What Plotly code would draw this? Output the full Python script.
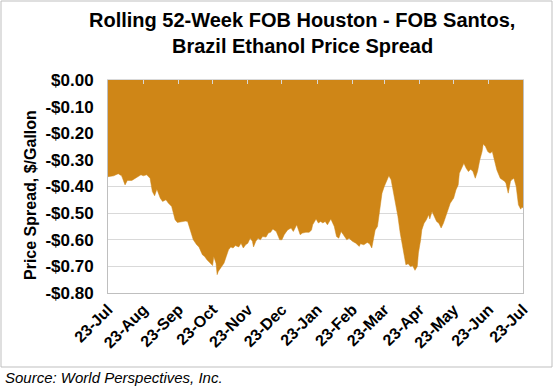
import pandas as pd
import plotly.graph_objects as go

# Days since 23-Jul-2017 and FOB Houston - FOB Santos spread ($/gallon)
start_date = "2017-07-23"
day_offset = [0, 5, 9, 12, 15, 17, 21, 26, 29, 31, 34, 37, 39, 41, 43, 46, 48, 51, 53, 56,
              59, 61, 65, 68, 70, 73, 75, 78, 80, 83, 85, 87, 90, 92, 93, 95, 96, 97, 100, 102,
              104, 106, 108, 110, 112, 115, 117, 119, 121, 123, 125, 127, 128, 130, 132, 134, 136, 139, 141, 143,
              145, 148, 151, 153, 155, 158, 161, 163, 166, 169, 171, 174, 177, 179, 180, 183, 185, 187, 189, 191,
              193, 196, 199, 201, 203, 205, 207, 210, 212, 215, 218, 221, 222, 225, 228, 230, 232, 234, 235, 237,
              238, 240, 241, 243, 245, 247, 249, 251, 253, 255, 257, 259, 261, 262, 264, 266, 268, 270, 272, 273,
              275, 276, 278, 280, 282, 283, 285, 287, 289, 291, 293, 295, 297, 299, 301, 303, 304, 306, 308, 309,
              311, 313, 315, 317, 319, 321, 323, 325, 327, 329, 330, 332, 334, 336, 338, 340, 342, 345, 347, 349,
              350, 352, 354, 355, 357, 359, 361, 363, 364, 365]
spread = [-0.363, -0.360, -0.352, -0.360, -0.394, -0.377, -0.377, -0.363, -0.356, -0.360, -0.356, -0.369, -0.419, -0.435, -0.410, -0.444, -0.456, -0.450, -0.462, -0.475,
          -0.525, -0.535, -0.531, -0.530, -0.531, -0.570, -0.600, -0.619, -0.627, -0.656, -0.663, -0.675, -0.688, -0.697, -0.663, -0.688, -0.731, -0.719, -0.700, -0.688,
          -0.663, -0.638, -0.627, -0.631, -0.622, -0.627, -0.613, -0.631, -0.619, -0.613, -0.594, -0.606, -0.627, -0.606, -0.594, -0.600, -0.588, -0.590, -0.575, -0.572,
          -0.560, -0.569, -0.600, -0.600, -0.581, -0.563, -0.556, -0.569, -0.544, -0.581, -0.575, -0.572, -0.572, -0.563, -0.544, -0.522, -0.537, -0.531, -0.537, -0.531,
          -0.544, -0.522, -0.550, -0.588, -0.594, -0.569, -0.581, -0.600, -0.594, -0.606, -0.613, -0.625, -0.615, -0.619, -0.610, -0.615, -0.631, -0.594, -0.563, -0.550,
          -0.513, -0.463, -0.425, -0.400, -0.381, -0.360, -0.375, -0.419, -0.463, -0.513, -0.575, -0.625, -0.675, -0.694, -0.690, -0.700, -0.698, -0.715, -0.700, -0.650,
          -0.600, -0.563, -0.538, -0.525, -0.506, -0.522, -0.494, -0.513, -0.531, -0.538, -0.556, -0.538, -0.513, -0.485, -0.463, -0.450, -0.444, -0.413, -0.394, -0.350,
          -0.331, -0.313, -0.331, -0.344, -0.335, -0.344, -0.369, -0.344, -0.300, -0.269, -0.240, -0.250, -0.269, -0.275, -0.269, -0.306, -0.338, -0.369, -0.375, -0.381,
          -0.388, -0.425, -0.381, -0.375, -0.369, -0.400, -0.469, -0.485, -0.478, -0.480]

tick_dates = ["2017-07-23", "2017-08-23", "2017-09-23", "2017-10-23", "2017-11-23", "2017-12-23",
              "2018-01-23", "2018-02-23", "2018-03-23", "2018-04-23", "2018-05-23", "2018-06-23", "2018-07-23"]
tick_labels = ["23-Jul", "23-Aug", "23-Sep", "23-Oct", "23-Nov", "23-Dec", "23-Jan",
               "23-Feb", "23-Mar", "23-Apr", "23-May", "23-Jun", "23-Jul"]
y_ticks = [0.0, -0.1, -0.2, -0.3, -0.4, -0.5, -0.6, -0.7, -0.8]
y_labels = ["$0.00", "-$0.10", "-$0.20", "-$0.30", "-$0.40", "-$0.50", "-$0.60", "-$0.70", "-$0.80"]

dates = pd.Timestamp(start_date) + pd.to_timedelta(day_offset, unit="D")

FONT = "Liberation Sans, Arial, sans-serif"
FILL = "#CF8617"
W, H = 558, 387
L, R, T, B = 108, 35, 80, 94
PW, PH = W - L - R, H - T - B


def px_x(px):
    return (px - L) / PW


def px_y(py):
    return (H - B - py) / PH


fig = go.Figure()
fig.add_trace(go.Scatter(x=dates, y=spread, mode="lines", fill="tozeroy",
                         fillcolor=FILL, line=dict(color=FILL, width=0.5),
                         showlegend=False, hoverinfo="x+y"))
# invisible helper trace so the top (zero-line) tick axis is drawn
fig.add_trace(go.Scatter(x=dates, y=spread, mode="lines", xaxis="x2",
                         line=dict(width=0, color="rgba(0,0,0,0)"),
                         showlegend=False, hoverinfo="skip"))

fig.update_layout(
    width=W, height=H,
    margin=dict(l=L, r=R, t=T, b=B, autoexpand=False),
    paper_bgcolor="white", plot_bgcolor="white",
    font=dict(family=FONT, color="black"),
    xaxis=dict(type="date", range=[tick_dates[0], tick_dates[-1]],
               tickvals=tick_dates, ticktext=tick_labels, tickangle=-45,
               tickfont=dict(family=FONT, size=16, color="black", weight="bold"),
               showgrid=False, zeroline=False, ticks="",
               showline=True, mirror=True, linecolor="#BFBFBF", linewidth=1),
    xaxis2=dict(type="date", overlaying="x", side="top", matches="x",
                range=[tick_dates[0], tick_dates[-1]],
                tickvals=tick_dates, showticklabels=False, ticks="inside",
                ticklen=4, tickcolor="#D9D9D9", tickwidth=1,
                showgrid=False, zeroline=False, showline=True, linecolor="#D9D9D9"),
    yaxis=dict(range=[-0.8, 0], tickvals=y_ticks, ticktext=y_labels,
               tickfont=dict(family=FONT, size=17, color="black", weight="bold"),
               showgrid=True, gridcolor="#D9D9D9", gridwidth=1, zeroline=False,
               showline=True, mirror=True, linecolor="#BFBFBF", linewidth=1,
               ticks="", ticklabelstandoff=10),
    shapes=[dict(type="rect", xref="paper", yref="paper",
                 x0=px_x(1), x1=px_x(552), y0=px_y(367), y1=px_y(1),
                 line=dict(color="#BFBFBF", width=1), fillcolor="rgba(0,0,0,0)", layer="below")],
    annotations=[
        dict(text="<b>Rolling 52-Week FOB Houston - FOB Santos,</b>", xref="paper", yref="paper",
             x=px_x(302), y=px_y(20), xanchor="center", yanchor="middle", showarrow=False,
             font=dict(family=FONT, size=20, color="black")),
        dict(text="<b>Brazil Ethanol Price Spread</b>", xref="paper", yref="paper",
             x=px_x(302), y=px_y(46), xanchor="center", yanchor="middle", showarrow=False,
             font=dict(family=FONT, size=20, color="black")),
        dict(text="<b>Price Spread, $/Gallon</b>", xref="paper", yref="paper",
             x=px_x(30), y=px_y(195), xanchor="center", yanchor="middle", showarrow=False,
             textangle=-90, font=dict(family=FONT, size=16, color="black")),
        dict(text="<i>Source: World Perspectives, Inc.</i>", xref="paper", yref="paper",
             x=px_x(3), y=px_y(377), xanchor="left", yanchor="middle",
             showarrow=False, font=dict(family=FONT, size=15, color="black")),
    ],
)

fig.write_html("out.html", config={"displayModeBar": False},
               post_script="document.body.style.margin='0';document.body.style.padding='0';")
